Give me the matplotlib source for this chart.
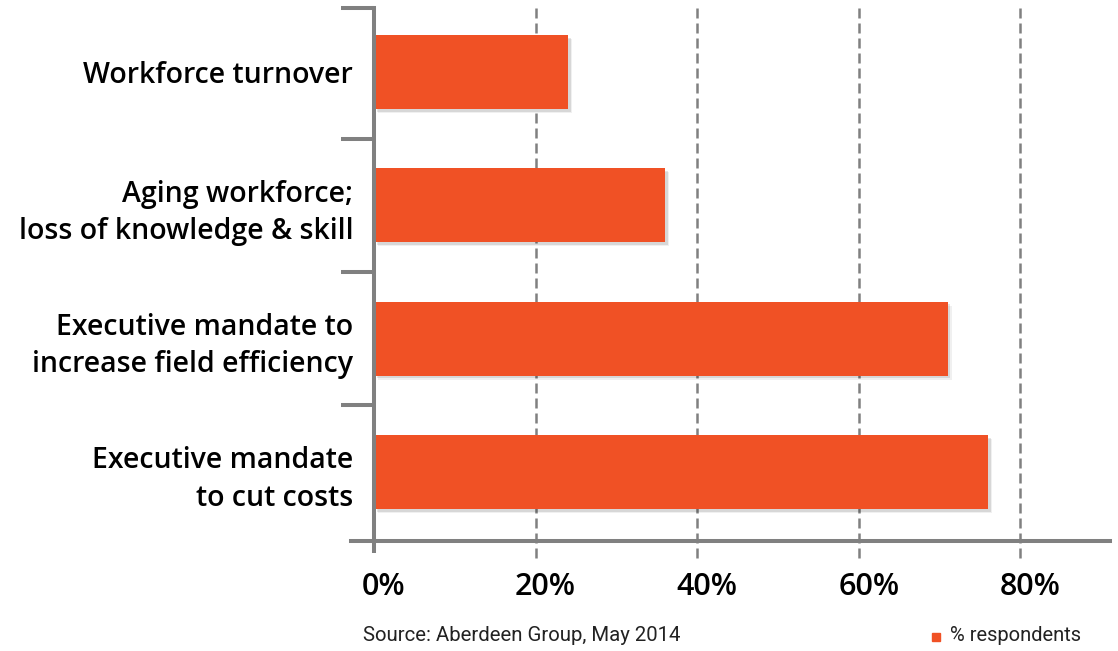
import matplotlib
matplotlib.use("Agg")
import matplotlib.pyplot as plt
from matplotlib import patheffects as pe
from matplotlib.patches import Rectangle
from matplotlib.transforms import blended_transform_factory, ScaledTranslation

# Data
categories = [
    "Workforce turnover",
    "Aging workforce;\nloss of knowledge & skill",
    "Executive mandate to\nincrease field efficiency",
    "Executive mandate\nto cut costs",
]
values = [24, 36, 71, 76]
x_ticks = [0, 20, 40, 60, 80]
x_tick_labels = ["0%", "20%", "40%", "60%", "80%"]
source_note = "Source: Aberdeen Group, May 2014"
series_name = "% respondents"

BAR = "#F05125"
AXIS = "#808080"
FONT = "Open Sans"
FOOT_FONT = "Roboto"

W, H = 1118, 651
fig = plt.figure(figsize=(W / 100, H / 100), dpi=100)
ax = fig.add_axes([351 / W, 1 - 541 / H, (1110 - 351) / W, (541 - 8) / H])

y_top, y_bottom = -0.48, 3.518
ax.set_xlim(-2.85, 91.1)
ax.set_ylim(y_bottom, y_top)

# bars with a soft drop shadow
shadow = [
    pe.SimplePatchShadow(offset=(3, -3), shadow_rgbFace="#000000", alpha=0.06),
    pe.SimplePatchShadow(offset=(2, -2), shadow_rgbFace="#000000", alpha=0.10),
    pe.Normal(),
]
bars = ax.barh(range(len(values)), values, height=0.555, color=BAR, zorder=3)
for b in bars:
    b.set_path_effects(shadow)

# dashed vertical gridlines that run a little below the axis line
xt = blended_transform_factory(ax.transData, ax.transAxes)
for v in x_ticks[1:]:
    ax.plot([v, v], [1, -22 / 533], transform=xt, color=AXIS, lw=1.8,
            ls=(0, (4, 2)), clip_on=False, zorder=1)

# axis lines
for s in ["top", "right"]:
    ax.spines[s].set_visible(False)
ax.spines["left"].set_position(("data", 0))
ax.spines["left"].set_color(AXIS)
ax.spines["left"].set_linewidth(2.9)
ax.spines["left"].set_zorder(4)
ax.plot([0, 0], [0, -12 / 533], transform=xt, color=AXIS, lw=2.9,
        clip_on=False, solid_capstyle="butt", zorder=4)
ax.spines["bottom"].set_color(AXIS)
ax.spines["bottom"].set_linewidth(2.9)

# y axis: category labels centred on bars, bracket ticks at band edges
ax.set_yticks(range(len(categories)))
ax.set_yticklabels(categories, fontfamily=FONT, fontweight="semibold",
                   fontsize=20.5, linespacing=1.38)
ax.set_yticks([y_top, 0.5, 1.5, 2.5], minor=True)
ax.tick_params(axis="y", which="major", length=0, pad=15)
ax.tick_params(axis="y", which="minor", length=24, width=2.9, color=AXIS)

# x axis labels
ax.set_xticks(x_ticks)
ax.set_xticklabels(x_tick_labels, fontfamily=FONT, fontweight="semibold",
                   fontsize=22)
ax.tick_params(axis="x", length=0, pad=22)
shift = ScaledTranslation(10 / 100, 0, fig.dpi_scale_trans)
for lab in ax.get_xticklabels():
    lab.set_transform(lab.get_transform() + shift)

# footer: source and legend
fig.text(363 / W, 1 - 641 / H, source_note, fontfamily=FOOT_FONT, fontsize=14.7,
         color="#222222", va="baseline", ha="left")
fig.patches.append(Rectangle((932 / W, 1 - 641 / H), 8 / W, 8 / H,
                             transform=fig.transFigure, color=BAR))
fig.text(950 / W, 1 - 641 / H, series_name, fontfamily=FOOT_FONT, fontsize=14.5,
         color="#222222", va="baseline", ha="left")

fig.savefig("out.png", dpi=100)
